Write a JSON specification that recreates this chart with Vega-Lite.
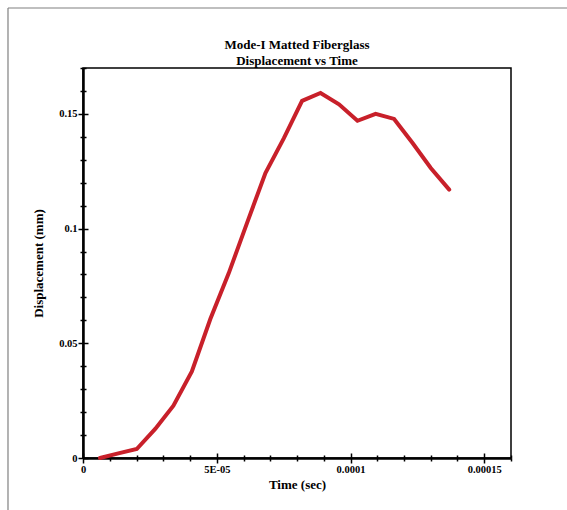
{
  "$schema": "https://vega.github.io/schema/vega-lite/v6.json",
  "width": 428,
  "height": 390,
  "autosize": {"type": "none"},
  "padding": {"left": 83, "top": 68, "right": 56, "bottom": 52},
  "background": "white",
  "title": {
    "text": ["Mode-I Matted Fiberglass", "Displacement vs Time"],
    "font": "Liberation Serif",
    "fontSize": 13,
    "fontWeight": "bold",
    "color": "black",
    "anchor": "middle",
    "frame": "group",
    "offset": -61,
    "lineHeight": 16
  },
  "data": {
    "values": [
      {"t": 0.00000636, "d": 0.0},
      {"t": 0.0000132, "d": 0.0020},
      {"t": 0.0000201, "d": 0.0039},
      {"t": 0.0000270, "d": 0.0127},
      {"t": 0.0000338, "d": 0.0228},
      {"t": 0.0000407, "d": 0.0377},
      {"t": 0.0000476, "d": 0.0606},
      {"t": 0.0000545, "d": 0.0806},
      {"t": 0.0000613, "d": 0.1024},
      {"t": 0.0000682, "d": 0.1242},
      {"t": 0.0000751, "d": 0.1394},
      {"t": 0.0000819, "d": 0.1557},
      {"t": 0.0000888, "d": 0.1591},
      {"t": 0.0000957, "d": 0.1542},
      {"t": 0.0001026, "d": 0.1470},
      {"t": 0.0001094, "d": 0.1500},
      {"t": 0.0001163, "d": 0.1478},
      {"t": 0.0001232, "d": 0.1373},
      {"t": 0.0001300, "d": 0.1264},
      {"t": 0.0001369, "d": 0.1170}
    ]
  },
  "config": {
    "view": {"stroke": "black", "strokeWidth": 1.5},
    "axis": {
      "grid": false,
      "domainColor": "black",
      "tickColor": "black",
      "tickWidth": 1.5,
      "labelFont": "Liberation Serif",
      "labelFontSize": 10.5,
      "labelFontWeight": "bold",
      "labelColor": "black",
      "labelOverlap": false,
      "labelFlush": false,
      "titleFont": "Liberation Serif",
      "titleFontSize": 13,
      "titleFontWeight": "bold",
      "titleColor": "black"
    }
  },
  "resolve": {"axis": {"x": "independent", "y": "independent"}},
  "layer": [
    {
      "mark": {"type": "line", "color": "#c8202a", "strokeWidth": 4, "strokeCap": "round"},
      "encoding": {
        "x": {
          "field": "t",
          "type": "quantitative",
          "scale": {"domain": [0, 0.00016], "nice": false},
          "axis": {
            "orient": "bottom",
            "title": "Time (sec)",
            "values": [0, 0.00001, 0.00002, 0.00003, 0.00004, 0.00005, 0.00006, 0.00007, 0.00008, 0.00009, 0.0001, 0.00011, 0.00012, 0.00013, 0.00014, 0.00015, 0.00016],
            "labelExpr": "datum.value == 0 ? '0' : datum.value == 0.00005 ? '5E-05' : datum.value == 0.0001 ? '0.0001' : datum.value == 0.00015 ? '0.00015' : ''",
            "tickSize": {"condition": {"test": "indexof([0, 0.00005, 0.0001, 0.00015], datum.value) >= 0", "value": 5}, "value": 3},
            "domainWidth": 2.5,
            "labelPadding": 1,
            "titlePadding": 4
          }
        },
        "y": {
          "field": "d",
          "type": "quantitative",
          "scale": {"domain": [0, 0.17], "nice": false},
          "axis": {
            "orient": "left",
            "title": "Displacement (mm)",
            "values": [0, 0.01, 0.02, 0.03, 0.04, 0.05, 0.06, 0.07, 0.08, 0.09, 0.1, 0.11, 0.12, 0.13, 0.14, 0.15, 0.16, 0.17],
            "labelExpr": "indexof([0, 0.05, 0.1, 0.15], datum.value) >= 0 ? '' + datum.value : ''",
            "tickSize": {"condition": {"test": "indexof([0, 0.05, 0.1, 0.15], datum.value) >= 0", "value": 5}, "value": 3},
            "domainWidth": 2.5,
            "labelPadding": 1,
            "titlePadding": 13
          }
        }
      }
    },
    {
      "mark": {"type": "point", "opacity": 0},
      "encoding": {
        "x": {
          "field": "t",
          "type": "quantitative",
          "axis": {
            "orient": "bottom",
            "title": null,
            "labels": false,
            "domain": false,
            "values": [0, 0.00001, 0.00002, 0.00003, 0.00004, 0.00005, 0.00006, 0.00007, 0.00008, 0.00009, 0.0001, 0.00011, 0.00012, 0.00013, 0.00014, 0.00015, 0.00016],
            "tickSize": {"condition": {"test": "indexof([0, 0.00005, 0.0001, 0.00015], datum.value) >= 0", "value": -5}, "value": -3}
          }
        },
        "y": {
          "field": "d",
          "type": "quantitative",
          "axis": {
            "orient": "left",
            "title": null,
            "labels": false,
            "domain": false,
            "values": [0, 0.01, 0.02, 0.03, 0.04, 0.05, 0.06, 0.07, 0.08, 0.09, 0.1, 0.11, 0.12, 0.13, 0.14, 0.15, 0.16, 0.17],
            "tickSize": {"condition": {"test": "indexof([0, 0.05, 0.1, 0.15], datum.value) >= 0", "value": -5}, "value": -3}
          }
        }
      }
    },
    {
      "data": {"values": [{}]},
      "mark": {"type": "rule", "color": "#808080", "strokeWidth": 1.2},
      "encoding": {
        "x": {"datum": -0.00002804, "type": "quantitative", "axis": null},
        "x2": {"datum": 0.00025},
        "y": {"datum": 0.19615, "type": "quantitative", "axis": null}
      }
    },
    {
      "data": {"values": [{}]},
      "mark": {"type": "rule", "color": "#808080", "strokeWidth": 1.2},
      "encoding": {
        "x": {"datum": -0.00002804, "type": "quantitative", "axis": null},
        "y": {"datum": 0.19615, "type": "quantitative", "axis": null},
        "y2": {"datum": -0.04}
      }
    }
  ]
}
